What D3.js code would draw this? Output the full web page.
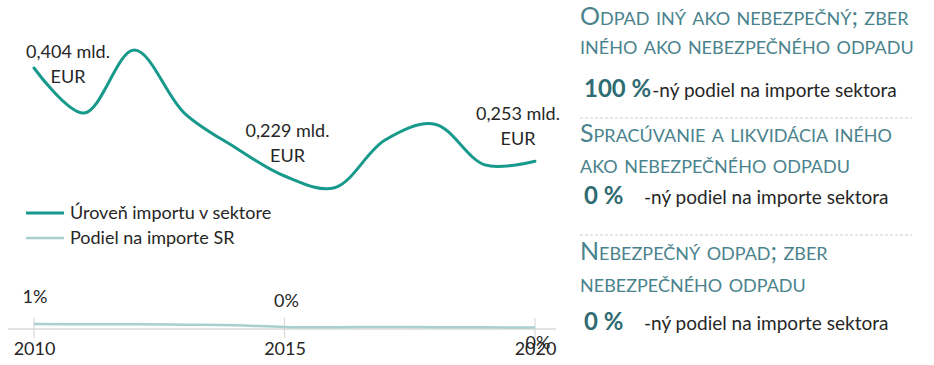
<!DOCTYPE html>
<html>
<head>
<meta charset="utf-8">
<script src="https://cdn.jsdelivr.net/npm/d3@7"></script>
<style>
  html, body { margin: 0; padding: 0; background: #fff; }
  svg { display: block; font-family: Lato, "Open Sans", sans-serif; }
</style>
</head>
<body>
<svg id="chart" width="934" height="365"></svg>
<script>
// ---- data ----
const years = [2010, 2011, 2012, 2013, 2014, 2015, 2016, 2017, 2018, 2019, 2020];
const importLevel = [0.404, 0.331, 0.433, 0.331, 0.276, 0.229, 0.210, 0.287, 0.313, 0.247, 0.253]; // mld. EUR
const importShare = [0.0083, 0.0078, 0.0080, 0.0072, 0.0062, 0.0035, 0.0030, 0.0034, 0.0030, 0.0028, 0.0025]; // share of SR imports
const labelYears = [2010, 2015, 2020];
const tickYears = [2010, 2015, 2020];
const legendLabels = ["Úroveň importu v sektore", "Podiel na importe SR"];
const sectorNames = [
  ["Odpad iný ako nebezpečný; zber", "iného ako nebezpečného odpadu"],
  ["Spracúvanie a likvidácia iného", "ako nebezpečného odpadu"],
  ["Nebezpečný odpad; zber", "nebezpečného odpadu"]
];
const sectorShares = [100, 0, 0];
const shareSuffix = "-ný podiel na importe sektora";

// ---- styles / layout ----
const C_MAIN = "#17998c", C_SHARE = "#a9cfcf", C_AXIS = "#d9d9d9", C_TEXT = "#262626";
const C_HEAD = "#4a838d", C_PCT = "#2f6b72";
const FS = 18;

const svg = d3.select("#chart");
const x = d3.scaleLinear().domain([2010, 2020]).range([34, 535]);
const y = d3.scaleLinear().domain([0.229, 0.404]).range([176, 68]);
const ys = d3.scaleLinear().domain([0, 0.01]).range([329, 323]);

const fmtVal = v => d3.format(".3f")(v).replace(".", ",") + " mld.";
const fmtPct = d3.format(".0%");

// main line
const line = d3.line().x((d, i) => x(years[i])).y(d => y(d)).curve(d3.curveCatmullRom.alpha(0.5));
svg.append("path").datum(importLevel)
  .attr("d", line).attr("fill", "none").attr("stroke", C_MAIN).attr("stroke-width", 3).attr("stroke-linecap", "round");

// value labels (two lines)
const valLabelPos = { 2010: [34, -10], 2015: [3, -39], 2020: [-17, -41] };
labelYears.forEach(yr => {
  const i = years.indexOf(yr);
  const [dx, dy] = valLabelPos[yr];
  const t = svg.append("text")
    .attr("x", x(yr) + dx).attr("y", y(importLevel[i]) + dy)
    .attr("text-anchor", "middle").attr("fill", C_TEXT).attr("font-size", FS);
  t.append("tspan").attr("x", x(yr) + dx).attr("dy", 0).text(fmtVal(importLevel[i]));
  t.append("tspan").attr("x", x(yr) + dx).attr("dy", 24.5).text("EUR");
});

// legend
legendLabels.forEach((lab, k) => {
  const ly = 213 + k * 25;
  svg.append("line").attr("x1", 26).attr("x2", 64).attr("y1", ly).attr("y2", ly)
    .attr("stroke", k === 0 ? C_MAIN : C_SHARE).attr("stroke-width", k === 0 ? 3 : 2.5);
  svg.append("text").attr("x", 70).attr("y", ly + 6).attr("fill", C_TEXT)
    .attr("font-size", FS).text(lab);
});

// bottom axis
svg.append("line").attr("x1", 8).attr("x2", 556).attr("y1", 329).attr("y2", 329)
  .attr("stroke", C_AXIS).attr("stroke-width", 1.5);
const axis = d3.axisBottom(x).tickValues(tickYears).tickFormat(d3.format("d")).tickSize(0).tickPadding(0);
const ag = svg.append("g").attr("transform", "translate(0,340)").call(axis);
ag.select(".domain").remove();
ag.selectAll("text").attr("font-size", FS).attr("fill", C_TEXT).attr("dy", "0.85em")
  .attr("font-family", "Lato, sans-serif");
svg.selectAll(".tk").data(tickYears).enter().append("line").attr("class", "tk")
  .attr("x1", d => x(d)).attr("x2", d => x(d)).attr("y1", 318).attr("y2", 338)
  .attr("stroke", C_AXIS).attr("stroke-width", 1.2);

// share line
const sline = d3.line().x((d, i) => x(years[i])).y(d => ys(d)).curve(d3.curveCatmullRom.alpha(0.5));
svg.append("path").datum(importShare).attr("d", sline)
  .attr("fill", "none").attr("stroke", C_SHARE).attr("stroke-width", 2.5);

const shareLabelPos = { 2010: [1, -21], 2015: [2, -20], 2020: [3, 21] };
labelYears.forEach(yr => {
  const i = years.indexOf(yr);
  const [dx, dy] = shareLabelPos[yr];
  svg.append("text").attr("x", x(yr) + dx).attr("y", ys(importShare[i]) + dy)
    .attr("text-anchor", "middle").attr("fill", C_TEXT).attr("font-size", FS)
    .text(fmtPct(importShare[i]));
});

// right panel
const blockTops = [0, 118, 235];
const headOffsets = [[25, 54], [24, 55], [25, 57]];
const pctOffsets = [97, 86, 95];
sectorNames.forEach((lines, b) => {
  const top = blockTops[b];
  lines.forEach((ln, j) => {
    svg.append("text").attr("x", 580).attr("y", top + headOffsets[b][j])
      .attr("fill", C_HEAD).attr("font-size", 25)
      .style("font-variant", "small-caps").text(ln);
  });
  const pt = svg.append("text").attr("x", 584).attr("y", top + pctOffsets[b])
    .attr("fill", C_PCT).attr("font-size", 24).attr("font-weight", "bold")
    .text(sectorShares[b] + " %");
  const pw = pt.node().getComputedTextLength();
  svg.append("text").attr("x", Math.max(644, 584 + pw + 1)).attr("y", top + pctOffsets[b])
    .attr("fill", C_TEXT).attr("font-size", 19).text(shareSuffix);
  if (b > 0) {
    svg.append("line").attr("x1", 580).attr("x2", 912).attr("y1", top).attr("y2", top)
      .attr("stroke", "#d0d0d0").attr("stroke-width", 1.2).attr("stroke-dasharray", "3,2");
  }
});
</script>
</body>
</html>
